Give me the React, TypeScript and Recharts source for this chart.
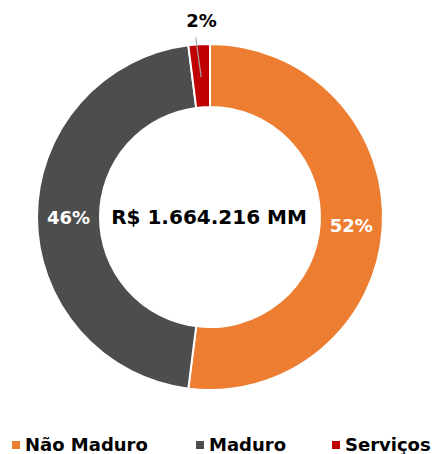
import React from "react";
import { PieChart, Pie, Cell, Legend } from "recharts";

const categories = ["Não Maduro", "Maduro", "Serviços"];
const values = [52, 46, 2];
const percentLabels = ["52%", "46%", "2%"];
const colors = ["#ED7D31", "#4D4D4D", "#C00000"];
const centerLabel = "R$ 1.664.216 MM";

const data = categories.map((name, i) => ({ name, value: values[i] }));

const FONT = "'DejaVu Sans', Verdana, sans-serif";
const RAD = Math.PI / 180;

const renderLabel = (props: any) => {
  const { cx, cy, midAngle, innerRadius, outerRadius, index } = props;
  if (index === 2) {
    const x1 = cx + 140 * Math.cos(-midAngle * RAD);
    const y1 = cy + 140 * Math.sin(-midAngle * RAD);
    const x2 = cx + 180 * Math.cos(-midAngle * RAD) - 3;
    const y2 = cy + 180 * Math.sin(-midAngle * RAD);
    const tx = cx + 197 * Math.cos(-midAngle * RAD) + 4;
    const ty = cy + 197 * Math.sin(-midAngle * RAD);
    return (
      <g>
        <line x1={x1} y1={y1} x2={x2} y2={y2} stroke="#A6A6A6" strokeWidth={1.2} />
        <text x={tx} y={ty} fill="#000" fontFamily={FONT} fontWeight="bold" fontSize={18} textAnchor="middle" dominantBaseline="central">
          {percentLabels[index]}
        </text>
      </g>
    );
  }
  const r = (innerRadius + outerRadius) / 2;
  const x = cx + r * Math.cos(-midAngle * RAD);
  const y = cy + r * Math.sin(-midAngle * RAD);
  return (
    <text x={x} y={y} fill="#fff" fontFamily={FONT} fontWeight="bold" fontSize={18} textAnchor="middle" dominantBaseline="central">
      {percentLabels[index]}
    </text>
  );
};

const legendPositions = [12, 196, 332];

const renderLegend = () => (
  <svg width={435} height={30} style={{ display: "block" }}>
    {categories.map((c, i) => (
      <g key={c}>
        <rect x={legendPositions[i]} y={17} width={8} height={8} fill={colors[i]} />
        <text x={legendPositions[i] + 13} y={27} fontFamily={FONT} fontWeight="bold" fontSize={18} fill="#000">
          {c}
        </text>
      </g>
    ))}
  </svg>
);

export default function App() {
  return (
    <div style={{ position: "absolute", top: 0, left: 0, width: 435, height: 454, background: "#fff" }}>
      <PieChart width={435} height={454} margin={{ top: 0, right: 0, bottom: 0, left: 0 }}>
        <Pie
          data={data}
          dataKey="value"
          nameKey="name"
          cx={210}
          cy={217}
          innerRadius={110}
          outerRadius={173}
          startAngle={90}
          endAngle={-270}
          stroke="#fff"
          strokeWidth={2}
          label={renderLabel}
          labelLine={false}
          isAnimationActive={false}
        >
          {data.map((d, i) => (
            <Cell key={d.name} fill={colors[i]} />
          ))}
        </Pie>
        <text x={209} y={217} textAnchor="middle" dominantBaseline="central" fontFamily={FONT} fontWeight="bold" fontSize={20} fill="#000">
          {centerLabel}
        </text>
        <Legend content={renderLegend} verticalAlign="bottom" wrapperStyle={{ left: 0, bottom: 0, width: 435, height: 30 }} />
      </PieChart>
    </div>
  );
}
